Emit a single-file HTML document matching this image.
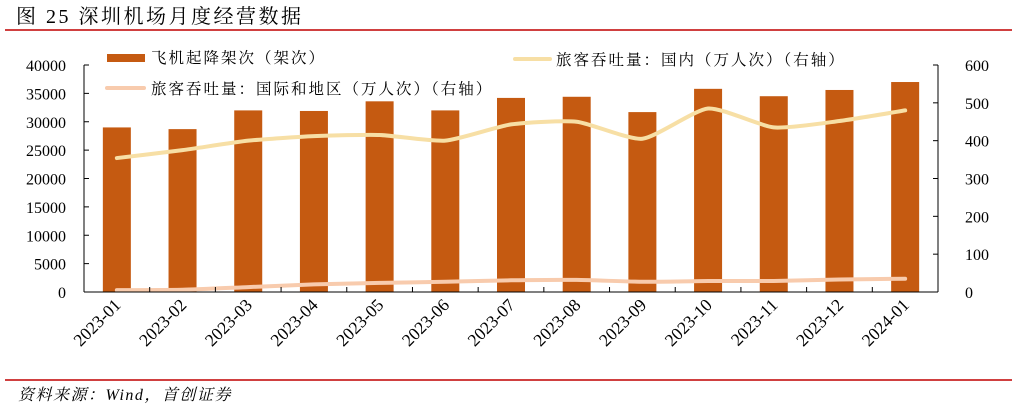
<!DOCTYPE html>
<html><head><meta charset="utf-8"><style>
body{margin:0;background:#fff;width:1017px;height:409px;overflow:hidden;font-family:"Liberation Serif","Noto Serif CJK SC",serif}
svg text{font-family:"Liberation Serif","Noto Serif CJK SC",serif}
</style></head><body>
<svg width="1017" height="409">
<text x="16" y="23" font-size="20" letter-spacing="2.5" fill="#000">图 25 深圳机场月度经营数据</text>
<line x1="5" y1="30" x2="1012" y2="30" stroke="#c00000" stroke-width="1.5"/>
<g id="plot"></g>
<line x1="5" y1="380" x2="1012" y2="380" stroke="#c00000" stroke-width="1.5"/>
<text x="18" y="400" font-size="16" letter-spacing="1.5" font-style="italic">资料来源：Wind，首创证券</text>
</svg>
<script>
const categories=["2023-01","2023-02","2023-03","2023-04","2023-05","2023-06","2023-07","2023-08","2023-09","2023-10","2023-11","2023-12","2024-01"];
const flights=[29000,28700,32000,31900,33600,32000,34200,34400,31700,35800,34500,35600,37000];
const domestic=[354,375,400,412,415,400,443,450,405,485,435,452,480];
const intl=[5,6,13,20,24,27,31,32,27,29,29,33,35];
const leftTicks=[0,5000,10000,15000,20000,25000,30000,35000,40000];
const rightTicks=[0,100,200,300,400,500,600];
const NS="http://www.w3.org/2000/svg";
const g=document.getElementById('plot');
const X0=84,X1=938,Y0=292,Y1=65,bw=(X1-X0)/categories.length;
const xc=i=>X0+bw*(i+0.5);
const yl=v=>Y0-(v/40000)*(Y0-Y1);
const yr=v=>Y0-(v/600)*(Y0-Y1);
function mk(t,a,name,parent){const e=document.createElementNS(NS,t);for(const k in a)e.setAttribute(k,a[k]);


(parent||g).appendChild(e);return e;}
flights.forEach((v,i)=>{mk('rect',{x:xc(i)-14,y:yl(v),width:28,height:Y0-yl(v),fill:'#c55a11'},'bar-'+categories[i]);});
function smooth(vals,f){const p=vals.map((v,i)=>[xc(i),f(v)]);let d='M'+p[0][0]+','+p[0][1];
for(let i=0;i<p.length-1;i++){const p0=p[i-1]||p[i],p1=p[i],p2=p[i+1],p3=p[i+2]||p2;const t=10;
d+=` C${p1[0]+(p2[0]-p0[0])/t},${p1[1]+(p2[1]-p0[1])/t} ${p2[0]-(p3[0]-p1[0])/t},${p2[1]-(p3[1]-p1[1])/t} ${p2[0]},${p2[1]}`;}return d;}
mk('path',{d:smooth(domestic,yr),fill:'none',stroke:'#f7dfa5',"stroke-width":4,"stroke-linecap":"round"},'line-domestic');
mk('path',{d:smooth(intl,yr),fill:'none',stroke:'#f8cbad',"stroke-width":4,"stroke-linecap":"round"},'line-international');
mk('line',{x1:X0,y1:Y1,x2:X0,y2:Y0,stroke:'#000'},'left-axis');
mk('line',{x1:X1,y1:Y1,x2:X1,y2:Y0,stroke:'#000'},'right-axis');
mk('line',{x1:X0,y1:Y0,x2:X1,y2:Y0,stroke:'#000'},'x-axis');
leftTicks.forEach(v=>{mk('line',{x1:X0,y1:yl(v),x2:X0+5,y2:yl(v),stroke:'#000'},'left-tick');
const t=mk('text',{x:X0-18,y:yl(v)+6,"text-anchor":"end","font-size":16},'left-tick-label');t.textContent=v;});
rightTicks.forEach(v=>{mk('line',{x1:X1-5,y1:yr(v),x2:X1,y2:yr(v),stroke:'#000'},'right-tick');
const t=mk('text',{x:X1+27,y:yr(v)+6,"font-size":16},'right-tick-label');t.textContent=v;});
categories.forEach((c,i)=>{if(i>0)mk('line',{x1:X0+bw*i,y1:Y0,x2:X0+bw*i,y2:Y0-5,stroke:'#000'},'x-tick');
const t=mk('text',{x:xc(i)+5,y:Y0+14,"text-anchor":"end","font-size":17.5,transform:`rotate(-45 ${xc(i)+5} ${Y0+14})`},'x-tick-label');t.textContent=c;});
mk('rect',{x:107,y:54,width:38,height:8,fill:'#c55a11'},'legend-swatch-flights');
let t=mk('text',{x:151,y:63,"font-size":15.5,"letter-spacing":2},'legend-label-flights');t.textContent='飞机起降架次（架次）';
mk('line',{x1:515,y1:59,x2:550,y2:59,stroke:'#f7dfa5',"stroke-width":4,"stroke-linecap":"round"},'legend-swatch-domestic');
t=mk('text',{x:556,y:65,"font-size":15.5,"letter-spacing":2},'legend-label-domestic');t.textContent='旅客吞吐量：国内（万人次）（右轴）';
mk('line',{x1:107,y1:88,x2:144,y2:88,stroke:'#f8cbad',"stroke-width":4,"stroke-linecap":"round"},'legend-swatch-international');
t=mk('text',{x:151,y:94,"font-size":15.5,"letter-spacing":2},'legend-label-international');t.textContent='旅客吞吐量：国际和地区（万人次）（右轴）';
</script>
</body></html>
